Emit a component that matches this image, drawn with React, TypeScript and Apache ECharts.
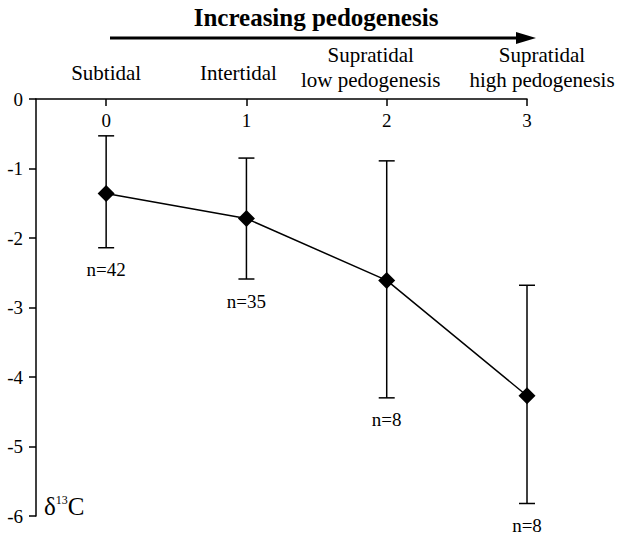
import React, { useEffect, useRef } from "react";
import * as echarts from "echarts";

const stages = [0, 1, 2, 3];
const stageNames = ["Subtidal", "Intertidal", "Supratidal\nlow pedogenesis", "Supratidal\nhigh pedogenesis"];
const means = [-1.36, -1.72, -2.61, -4.27];
const upper = [-0.53, -0.85, -0.89, -2.68];
const lower = [-2.14, -2.59, -4.3, -5.82];
const counts = [42, 35, 8, 8];
const yTicks = [0, -1, -2, -3, -4, -5, -6];

// horizontal nudges of stage-name labels (layout only)
const nameShift = [0, -8, -16, 15];

const FONT = "'Liberation Serif', 'Times New Roman', serif";

export default function App() {
  const ref = useRef<HTMLDivElement>(null);
  useEffect(() => {
    if (!ref.current) return;
    const chart = echarts.init(ref.current, null, { renderer: "svg" });
    const option: any = {
      animation: false,
      backgroundColor: "#fff",
      textStyle: { fontFamily: FONT, color: "#000" },
      grid: { left: 36, right: 91, top: 99, bottom: 19, containLabel: false },
      xAxis: {
        type: "value",
        position: "top",
        min: -0.5,
        max: 3,
        splitLine: { show: false },
        axisLine: { show: true, onZero: false, lineStyle: { color: "#000", width: 1.5 } },
        axisTick: { show: true, inside: true, length: 7, customValues: stages, lineStyle: { color: "#000", width: 1.5 } },
        axisLabel: {
          inside: true,
          margin: 12,
          customValues: stages,
          showMaxLabel: true,
          hideOverlap: false,
          fontFamily: FONT,
          fontSize: 19,
          color: "#000",
        },
      },
      yAxis: {
        type: "value",
        min: -6,
        max: 0,
        interval: 1,
        splitLine: { show: false },
        axisLine: { show: true, onZero: false, lineStyle: { color: "#000", width: 1.5 } },
        axisTick: { show: true, length: 7, lineStyle: { color: "#000", width: 1.5 } },
        axisLabel: {
          margin: 13,
          fontFamily: FONT,
          fontSize: 19,
          color: "#000",
          formatter: (v: number) => (yTicks.includes(v) ? String(v) : ""),
        },
      },
      graphic: [
        {
          type: "text",
          x: 316,
          y: 17,
          style: {
            text: "Increasing pedogenesis",
            fontFamily: FONT,
            fontSize: 25,
            fontWeight: "bold",
            fill: "#000",
            align: "center",
            verticalAlign: "middle",
          },
        },
        {
          type: "line",
          shape: { x1: 110, y1: 38, x2: 522, y2: 38 },
          style: { stroke: "#000", lineWidth: 3 },
        },
        {
          type: "polygon",
          shape: { points: [[516, 32], [536, 38], [516, 44]] },
          style: { fill: "#000" },
        },
        {
          type: "text",
          x: 44,
          y: 506,
          style: {
            text: "{d|δ}{s|13}{d|C}",
            verticalAlign: "middle",
            rich: {
              d: { fontFamily: FONT, fontSize: 25, fill: "#000" },
              s: { fontFamily: FONT, fontSize: 12, fill: "#000", verticalAlign: "top", padding: [0, 0, 9, 0] },
            },
          },
        },
      ],
      series: [
        {
          type: "custom",
          clip: false,
          data: stages.map((s, i) => [s, lower[i], upper[i], counts[i], i]),
          renderItem: (params: any, api: any) => {
            const x = api.value(0);
            const idx = api.value(4);
            const lo = api.coord([x, api.value(1)]);
            const hi = api.coord([x, api.value(2)]);
            const top = api.coord([x, 0]);
            const name = stageNames[idx];
            const multi = name.indexOf("\n") >= 0;
            const cap = 8;
            const st = { stroke: "#000", lineWidth: 1.5 };
            return {
              type: "group",
              children: [
                { type: "line", shape: { x1: hi[0], y1: hi[1], x2: lo[0], y2: lo[1] }, style: st },
                { type: "line", shape: { x1: hi[0] - cap, y1: hi[1], x2: hi[0] + cap, y2: hi[1] }, style: st },
                { type: "line", shape: { x1: lo[0] - cap, y1: lo[1], x2: lo[0] + cap, y2: lo[1] }, style: st },
                {
                  type: "text",
                  x: lo[0],
                  y: lo[1] + 22,
                  style: {
                    text: "n=" + api.value(3),
                    fontFamily: FONT,
                    fontSize: 19,
                    fill: "#000",
                    align: "center",
                    verticalAlign: "middle",
                  },
                },
                {
                  type: "text",
                  x: top[0] + nameShift[idx],
                  y: top[1] - (multi ? 7 : 14),
                  style: {
                    text: name,
                    fontFamily: FONT,
                    fontSize: 21,
                    lineHeight: 25,
                    fill: "#000",
                    align: "center",
                    verticalAlign: "bottom",
                  },
                },
              ],
            };
          },
          z: 2,
        },
        {
          type: "line",
          data: stages.map((s, i) => [s, means[i]]),
          symbol: "diamond",
          symbolSize: 17,
          itemStyle: { color: "#000" },
          lineStyle: { color: "#000", width: 1.5 },
          z: 3,
        },
      ],
    };
    chart.setOption(option);
    return () => chart.dispose();
  }, []);
  return <div ref={ref} style={{ position: "fixed", left: 0, top: 0, width: 618, height: 535 }} />;
}
